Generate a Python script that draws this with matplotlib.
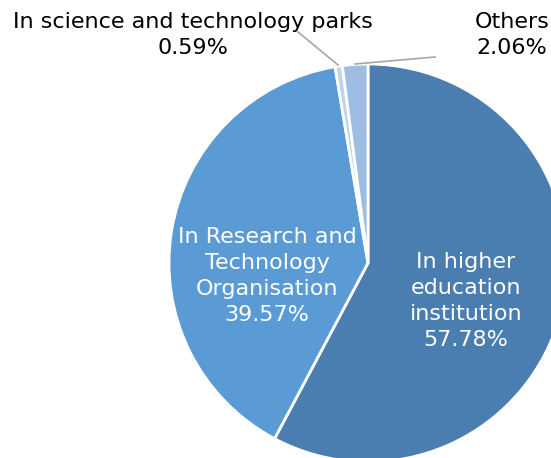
import matplotlib.pyplot as plt

labels = ["In higher\neducation\ninstitution", "In Research and\nTechnology\nOrganisation",
          "In science and technology parks", "Others"]
shares = [57.78, 39.57, 0.59, 2.06]
colors = ["#4a7eb0", "#5b9bd5", "#bdd3ee", "#9dbde2"]

W, H = 551, 458
fig = plt.figure(figsize=(W / 100, H / 100), dpi=100)
ax = fig.add_axes([0, 0, 1, 1])

# pixel-like coordinates, y pointing up
cx, cy, r = 368, H - 263, 199
ax.pie(shares, colors=colors, startangle=90, counterclock=False,
       center=(cx, cy), radius=r,
       wedgeprops=dict(edgecolor="white", linewidth=2))

ax.set_xlim(0, W)
ax.set_ylim(0, H)
ax.set_aspect("equal")
ax.axis("off")

fs = 16
ls = 1.36
ax.text(466, H - 301, f"{labels[0]}\n{shares[0]:.2f}%", color="white",
        ha="center", va="center", fontsize=fs, linespacing=ls)
ax.text(267, H - 276, f"{labels[1]}\n{shares[1]:.2f}%", color="white",
        ha="center", va="center", fontsize=fs, linespacing=ls)
ax.text(193, H - 35, f"{labels[2]}\n{shares[2]:.2f}%", color="black",
        ha="center", va="center", fontsize=fs, linespacing=ls)
ax.text(512, H - 35, f"{labels[3]}\n{shares[3]:.2f}%", color="black",
        ha="center", va="center", fontsize=fs, linespacing=ls)

# leader lines for the two thin slices
ax.plot([298, 338], [H - 32, H - 65], color="#a6a6a6", lw=1.2)
ax.plot([355, 435], [H - 64, H - 57], color="#a6a6a6", lw=1.2)

fig.savefig("out.png", dpi=100)
